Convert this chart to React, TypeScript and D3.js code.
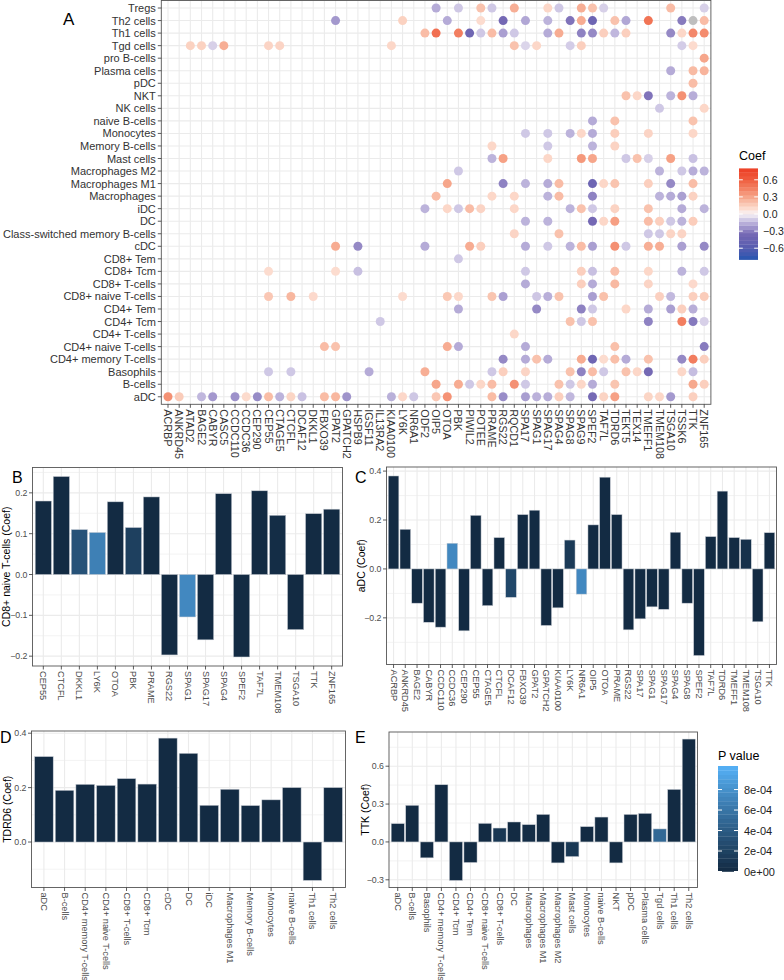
import React from "react";
import * as d3 from "d3";

// ---------- Panel A data ----------
const genes = [
  "ACRBP", "ANKRD45", "ATAD2", "BAGE2", "CABYR", "CASC5", "CCDC110", "CCDC36", "CEP290", "CEP55",
  "CTAGE5", "CTCFL", "DCAF12", "DKKL1", "FBXO39", "GPAT2", "GPATCH2", "HSPB9", "IGSF11", "IL13RA2",
  "KIAA0100", "LY6K", "NR6A1", "ODF2", "OIP5", "OTOA", "PBK", "PIWIL2", "POTEE", "PRAME", "RGS22",
  "RQCD1", "SPA17", "SPAG1", "SPAG17", "SPAG4", "SPAG8", "SPAG9", "SPEF2", "TAF7L", "TDRD6", "TEKT5",
  "TEX14", "TMEFF1", "TMEM108", "TSGA10", "TSSK6", "TTK", "ZNF165",
];

const cellTypes = [
  "Tregs", "Th2 cells", "Th1 cells", "Tgd cells", "pro B-cells", "Plasma cells", "pDC", "NKT",
  "NK cells", "naive B-cells", "Monocytes", "Memory B-cells", "Mast cells", "Macrophages M2",
  "Macrophages M1", "Macrophages", "iDC", "DC", "Class-switched memory B-cells", "cDC", "CD8+ Tem",
  "CD8+ Tcm", "CD8+ T-cells", "CD8+ naive T-cells", "CD4+ Tem", "CD4+ Tcm", "CD4+ T-cells",
  "CD4+ naive T-cells", "CD4+ memory T-cells", "Basophils", "B-cells", "aDC",
];

// [cell type, gene, coef]
const coefPoints: [string, string, number][] = [
  ["Tregs", "OIP5", -0.17], ["Tregs", "PBK", -0.1], ["Tregs", "POTEE", 0.2], ["Tregs", "PRAME", -0.1],
  ["Tregs", "RQCD1", 0.27], ["Tregs", "SPAG17", 0.12], ["Tregs", "SPAG4", -0.1], ["Tregs", "SPAG9", 0.27],
  ["Tregs", "SPEF2", 0.2], ["Tregs", "TAF7L", -0.08], ["Tregs", "TSGA10", 0.22], ["Tregs", "ZNF165", -0.08],
  ["Th2 cells", "GPAT2", -0.22], ["Th2 cells", "LY6K", 0.14], ["Th2 cells", "OTOA", -0.17], ["Th2 cells", "POTEE", 0.1],
  ["Th2 cells", "RGS22", -0.36], ["Th2 cells", "SPA17", -0.18], ["Th2 cells", "SPAG17", -0.15], ["Th2 cells", "SPAG8", -0.32],
  ["Th2 cells", "SPAG9", 0.28], ["Th2 cells", "SPEF2", -0.42], ["Th2 cells", "TEKT5", -0.18], ["Th2 cells", "TMEFF1", 0.5],
  ["Th2 cells", "TSSK6", -0.3], ["Th2 cells", "ZNF165", 0.22],
  ["Th1 cells", "ODF2", 0.22], ["Th1 cells", "OIP5", 0.52], ["Th1 cells", "PBK", 0.45], ["Th1 cells", "PIWIL2", -0.4],
  ["Th1 cells", "POTEE", -0.1], ["Th1 cells", "PRAME", 0.22], ["Th1 cells", "RGS22", -0.2], ["Th1 cells", "RQCD1", -0.1],
  ["Th1 cells", "SPAG17", -0.17], ["Th1 cells", "SPAG4", 0.28], ["Th1 cells", "SPAG9", -0.28], ["Th1 cells", "SPEF2", -0.26],
  ["Th1 cells", "TAF7L", 0.15], ["Th1 cells", "TEKT5", 0.15], ["Th1 cells", "TSGA10", -0.26], ["Th1 cells", "TSSK6", 0.12],
  ["Th1 cells", "ZNF165", 0.4],
  ["Tgd cells", "ATAD2", 0.14], ["Tgd cells", "BAGE2", 0.14], ["Tgd cells", "CABYR", -0.08], ["Tgd cells", "CASC5", 0.27],
  ["Tgd cells", "CEP55", 0.13], ["Tgd cells", "CTAGE5", 0.13], ["Tgd cells", "KIAA0100", 0.12], ["Tgd cells", "RQCD1", 0.2],
  ["Tgd cells", "SPA17", -0.07], ["Tgd cells", "SPAG1", 0.12], ["Tgd cells", "SPAG8", -0.09], ["Tgd cells", "SPAG9", 0.15],
  ["Tgd cells", "TSSK6", -0.09],
  ["pro B-cells", "ZNF165", 0.3],
  ["Plasma cells", "TSGA10", -0.17], ["Plasma cells", "ZNF165", 0.25],
  ["NKT", "TEKT5", 0.2], ["NKT", "TEX14", 0.12], ["NKT", "TMEFF1", -0.32], ["NKT", "TSGA10", -0.15], ["NKT", "TSSK6", 0.38],
  ["NK cells", "TMEM108", -0.1], ["NK cells", "ZNF165", 0.12],
  ["naive B-cells", "SPEF2", -0.17],
  ["Monocytes", "SPA17", -0.1], ["Monocytes", "SPAG17", -0.1], ["Monocytes", "SPAG8", -0.15], ["Monocytes", "SPAG9", 0.12],
  ["Monocytes", "SPEF2", -0.17], ["Monocytes", "TMEFF1", 0.13],
  ["Memory B-cells", "PRAME", 0.12], ["Memory B-cells", "SPAG17", -0.1], ["Memory B-cells", "SPEF2", -0.15],
  ["Mast cells", "PRAME", -0.15], ["Mast cells", "RGS22", 0.32], ["Mast cells", "SPAG17", 0.12], ["Mast cells", "SPAG9", 0.35],
  ["Mast cells", "SPEF2", 0.3], ["Mast cells", "TEKT5", -0.1], ["Mast cells", "TEX14", 0.2], ["Mast cells", "TMEFF1", -0.08],
  ["Mast cells", "TSGA10", 0.32],
  ["Macrophages M2", "PBK", -0.1], ["Macrophages M2", "TMEM108", -0.15], ["Macrophages M2", "TSSK6", -0.1], ["Macrophages M2", "ZNF165", -0.15],
  ["Macrophages M1", "OTOA", 0.3], ["Macrophages M1", "RGS22", -0.28], ["Macrophages M1", "SPA17", -0.15], ["Macrophages M1", "SPAG17", -0.17],
  ["Macrophages M1", "SPAG4", 0.22], ["Macrophages M1", "SPEF2", -0.42], ["Macrophages M1", "TAF7L", 0.12], ["Macrophages M1", "TMEFF1", 0.15],
  ["Macrophages M1", "TSGA10", -0.26],
  ["Macrophages", "OIP5", 0.22], ["Macrophages", "PRAME", 0.12], ["Macrophages", "RQCD1", 0.12], ["Macrophages", "SPAG17", -0.15],
  ["Macrophages", "SPAG4", 0.22], ["Macrophages", "SPEF2", -0.28], ["Macrophages", "TMEM108", -0.15], ["Macrophages", "TSGA10", -0.17],
  ["Macrophages", "TSSK6", -0.2],
  ["iDC", "ODF2", -0.15], ["iDC", "OTOA", 0.12], ["iDC", "PBK", -0.1], ["iDC", "PIWIL2", 0.22], ["iDC", "POTEE", 0.13],
  ["iDC", "RQCD1", 0.12], ["iDC", "SPAG8", -0.15], ["iDC", "SPAG9", 0.2], ["iDC", "SPEF2", -0.1], ["iDC", "TMEFF1", 0.2],
  ["iDC", "TSSK6", -0.17], ["iDC", "ZNF165", -0.15],
  ["DC", "SPA17", -0.15], ["DC", "SPAG17", -0.15], ["DC", "SPEF2", -0.36], ["DC", "TAF7L", 0.12], ["DC", "TMEFF1", 0.22],
  ["DC", "TMEM108", 0.15], ["DC", "TSGA10", -0.1], ["DC", "TSSK6", -0.15],
  ["Class-switched memory B-cells", "RQCD1", 0.13], ["Class-switched memory B-cells", "SPAG4", 0.2],
  ["Class-switched memory B-cells", "TMEFF1", -0.1], ["Class-switched memory B-cells", "TMEM108", -0.1],
  ["Class-switched memory B-cells", "TSGA10", 0.13], ["Class-switched memory B-cells", "TSSK6", 0.13],
  ["cDC", "GPAT2", 0.28], ["cDC", "HSPB9", -0.26], ["cDC", "ODF2", -0.17], ["cDC", "PIWIL2", 0.28], ["cDC", "POTEE", 0.15],
  ["cDC", "SPA17", -0.17], ["cDC", "SPAG17", -0.1], ["cDC", "SPAG8", -0.15], ["cDC", "SPAG9", 0.22], ["cDC", "SPEF2", -0.2],
  ["cDC", "TEKT5", -0.1], ["cDC", "TMEFF1", 0.27], ["cDC", "TMEM108", 0.27], ["cDC", "TSSK6", -0.2], ["cDC", "ZNF165", -0.26],
  ["CD8+ Tem", "PBK", -0.1],
  ["CD8+ Tcm", "CEP55", 0.1], ["CD8+ Tcm", "GPAT2", 0.1], ["CD8+ Tcm", "HSPB9", -0.12], ["CD8+ Tcm", "SPA17", -0.1],
  ["CD8+ Tcm", "SPAG9", 0.15], ["CD8+ Tcm", "SPEF2", -0.12], ["CD8+ Tcm", "TMEFF1", 0.12], ["CD8+ Tcm", "TSSK6", -0.15],
  ["CD8+ Tcm", "ZNF165", -0.1],
  ["CD8+ T-cells", "SPA17", -0.17], ["CD8+ T-cells", "SPAG9", 0.15], ["CD8+ T-cells", "SPEF2", -0.17], ["CD8+ T-cells", "TMEFF1", 0.13],
  ["CD4+ Tem", "PBK", -0.17], ["CD4+ Tem", "SPAG1", -0.26], ["CD4+ Tem", "SPAG9", -0.28], ["CD4+ Tem", "SPEF2", -0.1],
  ["CD4+ Tem", "TEKT5", 0.12], ["CD4+ Tem", "TMEFF1", -0.17], ["CD4+ Tem", "TSGA10", -0.2], ["CD4+ Tem", "TSSK6", 0.15],
  ["CD4+ Tcm", "IL13RA2", -0.1], ["CD4+ Tcm", "SPAG8", 0.2], ["CD4+ Tcm", "SPAG9", -0.1], ["CD4+ Tcm", "SPEF2", 0.2],
  ["CD4+ Tcm", "TMEFF1", -0.28], ["CD4+ Tcm", "TSSK6", 0.45], ["CD4+ Tcm", "ZNF165", -0.08],
  ["CD4+ T-cells", "RQCD1", 0.12],
  ["CD4+ naive T-cells", "FBXO39", 0.22], ["CD4+ naive T-cells", "GPAT2", 0.2], ["CD4+ naive T-cells", "OTOA", 0.28],
  ["CD4+ naive T-cells", "PBK", -0.17], ["CD4+ naive T-cells", "SPA17", -0.17], ["CD4+ naive T-cells", "ZNF165", -0.3],
  ["CD4+ memory T-cells", "RGS22", -0.26], ["CD4+ memory T-cells", "SPA17", -0.17], ["CD4+ memory T-cells", "SPAG1", 0.2],
  ["CD4+ memory T-cells", "SPAG17", -0.17], ["CD4+ memory T-cells", "SPAG9", 0.28], ["CD4+ memory T-cells", "SPEF2", -0.4],
  ["CD4+ memory T-cells", "TAF7L", 0.1], ["CD4+ memory T-cells", "TEKT5", -0.17], ["CD4+ memory T-cells", "TMEFF1", 0.2],
  ["CD4+ memory T-cells", "TSSK6", -0.26], ["CD4+ memory T-cells", "ZNF165", 0.15],
  ["Basophils", "CEP55", -0.1], ["Basophils", "CTCFL", -0.1], ["Basophils", "IGSF11", -0.17], ["Basophils", "ODF2", 0.27],
  ["Basophils", "PRAME", -0.1], ["Basophils", "RGS22", 0.15], ["Basophils", "SPA17", 0.13], ["Basophils", "SPAG8", 0.2],
  ["Basophils", "SPAG9", -0.28], ["Basophils", "SPEF2", 0.22], ["Basophils", "TAF7L", -0.1], ["Basophils", "TEKT5", 0.2],
  ["Basophils", "TEX14", 0.12], ["Basophils", "TMEFF1", -0.35], ["Basophils", "TSSK6", 0.12],
  ["B-cells", "OIP5", 0.3], ["B-cells", "PBK", 0.28], ["B-cells", "PIWIL2", -0.1], ["B-cells", "POTEE", 0.12],
  ["B-cells", "PRAME", 0.22], ["B-cells", "RQCD1", 0.38], ["B-cells", "SPA17", -0.1], ["B-cells", "SPAG4", 0.2],
  ["B-cells", "SPAG8", -0.1], ["B-cells", "SPAG9", 0.12], ["B-cells", "SPEF2", -0.17], ["B-cells", "ZNF165", 0.15],
];

// ---------- Panel B: CD8+ naive T-cells ----------
const bGenes = ["CEP55", "CTCFL", "DKKL1", "LY6K", "OTOA", "PBK", "PRAME", "RGS22", "SPAG1", "SPAG17", "SPAG4", "SPEF2", "TAF7L", "TMEM108", "TSGA10", "TTK", "ZNF165"];
const bCoef = [0.18, 0.24, 0.11, 0.103, 0.178, 0.115, 0.19, -0.197, -0.104, -0.16, 0.198, -0.202, 0.205, 0.145, -0.135, 0.149, 0.16];
const bP = [0, 0, 0.00033, 0.00068, 0, 0.00018, 0, 0, 0.00074, 0, 0, 0, 0, 0.00002, 0, 0, 0];

// ---------- Panel C: aDC ----------
const cGenes = ["ACRBP", "ANKRD45", "BAGE2", "CABYR", "CCDC110", "CCDC36", "CEP290", "CEP55", "CTAGE5", "CTCFL", "DCAF12", "FBXO39", "GPAT2", "GPATCH2", "KIAA0100", "LY6K", "NR6A1", "OIP5", "OTOA", "PRAME", "RGS22", "SPA17", "SPAG1", "SPAG17", "SPAG4", "SPAG8", "SPEF2", "TAF7L", "TDRD6", "TMEFF1", "TMEM108", "TSGA10", "TTK"];
const cCoef = [0.38, 0.162, -0.14, -0.218, -0.238, 0.105, -0.253, 0.219, -0.15, 0.128, -0.116, 0.222, 0.24, -0.231, -0.159, 0.118, -0.103, 0.18, 0.375, 0.222, -0.249, -0.204, -0.155, -0.165, 0.15, -0.14, -0.354, 0.132, 0.318, 0.128, 0.121, -0.216, 0.148];
const cP = [0, 0, 0, 0, 0, 0.00074, 0, 0, 0, 0, 0.00024, 0, 0, 0, 0, 0.00013, 0.00074, 0, 0, 0, 0, 0, 0, 0, 0, 0, 0, 0, 0, 0, 0.00005, 0, 0];

// ---------- Panel D: TDRD6 ----------
const dCells = ["aDC", "B-cells", "CD4+ memory T-cells", "CD4+ naive T-cells", "CD8+ T-cells", "CD8+ Tcm", "cDC", "DC", "iDC", "Macrophages M1", "Memory B-cells", "Monocytes", "naive B-cells", "Th1 cells", "Th2 cells"];
const dCoef = [0.314, 0.19, 0.212, 0.208, 0.233, 0.213, 0.382, 0.326, 0.135, 0.194, 0.134, 0.155, 0.2, -0.141, 0.2];
const dP = [0, 0, 0, 0, 0, 0, 0, 0, 0, 0, 0, 0, 0, 0, 0];

// ---------- Panel E: TTK ----------
const eCells = ["aDC", "B-cells", "Basophils", "CD4+ memory T-cells", "CD4+ Tcm", "CD4+ Tem", "CD8+ naive T-cells", "CD8+ T-cells", "DC", "Macrophages", "Macrophages M1", "Macrophages M2", "Mast cells", "Monocytes", "naive B-cells", "NKT", "pDC", "Plasma cells", "Tgd cells", "Th1 cells", "Th2 cells"];
const eCoef = [0.145, 0.29, -0.126, 0.453, -0.305, -0.163, 0.147, 0.11, 0.158, 0.137, 0.218, -0.166, -0.116, 0.121, 0.197, -0.166, 0.218, 0.226, 0.103, 0.416, 0.815];
const eP = [0, 0, 0, 0, 0, 0, 0, 0.0001, 0, 0.00002, 0, 0, 0.00011, 0, 0, 0, 0, 0, 0.0005, 0, 0];

const coefLegendTicks = [0.6, 0.3, 0.0, -0.3, -0.6];
const pLegendTicks = [0, 0.0002, 0.0004, 0.0006, 0.0008];
const pLegendLabels = ["0e+00", "2e-04", "4e-04", "6e-04", "8e-04"];

// ---------- styles / scales ----------
const FONT = "'Liberation Sans', Arial, Helvetica, sans-serif";
const GRID = "#EBEBEB";
const BORDER = "#555555";
const AXIS_TXT = "#4D4D4D";

const PMAX = 0.00103;
const pColor = d3.scaleLinear<string>().domain([0, PMAX]).range(["#132B43", "#56B1F7"]).interpolate(d3.interpolateLab);

const COEF_LIM = 0.8;
const coefStops = [-0.8, -0.55, -0.35, -0.2, -0.1, 0, 0.1, 0.2, 0.3, 0.45, 0.6, 0.8];
const coefStopColors = ["#2356b0", "#5c5eb0", "#7569b4", "#aa9fd1", "#cfc8e5", "#f7f3f6", "#fcdccf", "#f9c2ad", "#f6a68b", "#f27e60", "#ef5d3f", "#ec3d24"];
const coefScale = d3.scaleLinear<string>().domain(coefStops).range(coefStopColors).interpolate(d3.interpolateLab);
const coefColor = (v: number) => (Math.abs(v) > COEF_LIM ? "#BEBEBE" : coefScale(v));

const fmt1 = d3.format(".1f");

function buildPoints() {
  const seen = new Set<string>();
  const out: { cell: string; gene: string; v: number }[] = [];
  const add = (cell: string, gene: string, v: number) => {
    const k = cell + "|" + gene;
    if (!seen.has(k)) {
      seen.add(k);
      out.push({ cell, gene, v });
    }
  };
  coefPoints.forEach(([c, g, v]) => add(c, g, v));
  bGenes.forEach((g, i) => add("CD8+ naive T-cells", g, bCoef[i]));
  cGenes.forEach((g, i) => add("aDC", g, cCoef[i]));
  dCells.forEach((c, i) => add(c, "TDRD6", dCoef[i]));
  eCells.forEach((c, i) => add(c, "TTK", eCoef[i]));
  return out;
}

function PanelA() {
  const L = 161.3, R = 710.9, T = 0.5, B = 404.3;
  const x = d3.scalePoint<string>().domain(genes).range([L, R]).padding(0.6);
  const y = d3.scalePoint<string>().domain(cellTypes).range([T, B]).padding(0.6);
  const pts = buildPoints();
  return (
    <g>
      <rect x={L} y={T} width={R - L} height={B - T} fill="white" />
      {genes.map((g) => (
        <line key={"vg" + g} x1={x(g)} x2={x(g)} y1={T} y2={B} stroke={GRID} strokeWidth={1.1} />
      ))}
      {cellTypes.map((c) => (
        <line key={"hg" + c} x1={L} x2={R} y1={y(c)} y2={y(c)} stroke={GRID} strokeWidth={1.1} />
      ))}
      {pts.map((p) => (
        <circle key={p.cell + p.gene} cx={x(p.gene)} cy={y(p.cell)} r={4.5} fill={coefColor(p.v)} />
      ))}
      <rect x={L} y={T} width={R - L} height={B - T} fill="none" stroke={BORDER} strokeWidth={0.9} />
      {cellTypes.map((c) => (
        <g key={"yl" + c}>
          <line x1={L - 3.5} x2={L} y1={y(c)} y2={y(c)} stroke="#333" strokeWidth={0.8} />
          <text x={L - 5.5} y={y(c)} textAnchor="end" dominantBaseline="central" fontSize={11} fill="#333" fontFamily={FONT}>{c}</text>
        </g>
      ))}
      {genes.map((g) => (
        <g key={"xl" + g}>
          <line x1={x(g)} x2={x(g)} y1={B} y2={B + 3.5} stroke="#333" strokeWidth={0.8} />
          <text transform={`translate(${x(g)},${B + 5})rotate(90)`} textAnchor="start" dominantBaseline="central" fontSize={10.8} fill="#333" fontFamily={FONT}>{g}</text>
        </g>
      ))}
      <text x={63} y={25} fontSize={17} fontFamily={FONT} fill="#000">A</text>
    </g>
  );
}

function CoefLegend() {
  const X = 739, W = 19;
  const yL = d3.scaleLinear().domain([-COEF_LIM, COEF_LIM]).range([259.6, 168.4]);
  const nb = 24;
  const bins = d3.range(nb).map((i) => -COEF_LIM + (i * 2 * COEF_LIM) / nb);
  const h = (2 * COEF_LIM) / nb;
  return (
    <g>
      <text x={X} y={160} fontSize={12.5} fontFamily={FONT} fill="#000">Coef</text>
      {bins.map((b, i) => (
        <rect key={i} x={X} y={yL(b + h)} width={W} height={yL(b) - yL(b + h) + 0.3} fill={coefScale(b + h / 2)} />
      ))}
      {coefLegendTicks.map((t) => (
        <g key={t}>
          <line x1={X} x2={X + 3.8} y1={yL(t)} y2={yL(t)} stroke="white" strokeWidth={1} />
          <line x1={X + W - 3.8} x2={X + W} y1={yL(t)} y2={yL(t)} stroke="white" strokeWidth={1} />
          <text x={X + W + 5} y={yL(t)} dominantBaseline="central" fontSize={10.5} fontFamily={FONT} fill="#222">{fmt1(t)}</text>
        </g>
      ))}
    </g>
  );
}

function PLegend() {
  const X = 718, W = 20;
  const yP = d3.scaleLinear().domain([0, PMAX]).range([871.5, 766]);
  const nb = 24;
  const h = PMAX / nb;
  const bins = d3.range(nb).map((i) => i * h);
  return (
    <g>
      <text x={X} y={760} fontSize={12.5} fontFamily={FONT} fill="#000">P value</text>
      {bins.map((b, i) => (
        <rect key={i} x={X} y={yP(b + h)} width={W} height={yP(b) - yP(b + h) + 0.3} fill={pColor(b + h / 2)} />
      ))}
      {pLegendTicks.map((t, i) => (
        <g key={t}>
          <line x1={X} x2={X + 4} y1={yP(t)} y2={yP(t)} stroke="white" strokeWidth={1} />
          <line x1={X + W - 4} x2={X + W} y1={yP(t)} y2={yP(t)} stroke="white" strokeWidth={1} />
          <text x={X + W + 6} y={yP(t)} dominantBaseline="central" fontSize={11} fontFamily={FONT} fill="#222">{pLegendLabels[i]}</text>
        </g>
      ))}
    </g>
  );
}

type BarProps = {
  cats: string[];
  vals: number[];
  ps: number[];
  L: number; R: number; T: number; B: number;
  ticks: number[];
  title: string;
  titleX: number;
  letter: string;
  letterX: number;
  letterY: number;
};

function BarPanel({ cats, vals, ps, L, R, T, B, ticks, title, titleX, letter, letterX, letterY }: BarProps) {
  const x = d3.scalePoint<string>().domain(cats).range([L, R]).padding(0.6);
  const bw = x.step() * 0.9;
  const lo = Math.min(0, d3.min(vals) as number);
  const hi = Math.max(0, d3.max(vals) as number);
  const r = hi - lo;
  const dom: [number, number] = [lo - 0.05 * r, hi + 0.05 * r];
  const y = d3.scaleLinear().domain(dom).range([B, T]);
  const s = ticks[1] - ticks[0];
  const minors: number[] = [];
  for (let v = ticks[0] - s / 2; v <= ticks[ticks.length - 1] + s / 2 + 1e-9; v += s) {
    if (v >= dom[0] && v <= dom[1]) minors.push(v);
  }
  return (
    <g>
      <rect x={L} y={T} width={R - L} height={B - T} fill="white" />
      {minors.map((m, i) => (
        <line key={"mn" + i} x1={L} x2={R} y1={y(m)} y2={y(m)} stroke={GRID} strokeWidth={0.6} />
      ))}
      {ticks.map((t) => (
        <line key={"mj" + t} x1={L} x2={R} y1={y(t)} y2={y(t)} stroke={GRID} strokeWidth={1.1} />
      ))}
      {cats.map((c) => (
        <line key={"vg" + c} x1={x(c)} x2={x(c)} y1={T} y2={B} stroke={GRID} strokeWidth={1.1} />
      ))}
      {cats.map((c, i) => {
        const v = vals[i];
        const y0 = y(0), y1 = y(v);
        return (
          <rect key={"b" + c} x={(x(c) as number) - bw / 2} y={Math.min(y0, y1)} width={bw} height={Math.abs(y1 - y0)}
            fill={pColor(ps[i])} stroke="#c7ccd3" strokeWidth={0.5} />
        );
      })}
      <rect x={L} y={T} width={R - L} height={B - T} fill="none" stroke={BORDER} strokeWidth={0.9} />
      {ticks.map((t) => (
        <g key={"yt" + t}>
          <line x1={L - 3.5} x2={L} y1={y(t)} y2={y(t)} stroke="#333" strokeWidth={0.8} />
          <text x={L - 5} y={y(t)} textAnchor="end" dominantBaseline="central" fontSize={8.8} fill={AXIS_TXT} fontFamily={FONT}>{fmt1(t)}</text>
        </g>
      ))}
      {cats.map((c) => (
        <g key={"xt" + c}>
          <line x1={x(c)} x2={x(c)} y1={B} y2={B + 3.5} stroke="#333" strokeWidth={0.8} />
          <text transform={`translate(${x(c)},${B + 5})rotate(90)`} textAnchor="start" dominantBaseline="central" fontSize={9.2} fill={AXIS_TXT} fontFamily={FONT}>{c}</text>
        </g>
      ))}
      <text transform={`translate(${titleX},${(T + B) / 2})rotate(-90)`} dy="0.35em" textAnchor="middle" fontSize={10.5} fill="#000" fontFamily={FONT}>{title}</text>
      <text x={letterX} y={letterY} fontSize={16} fill="#000" fontFamily={FONT}>{letter}</text>
    </g>
  );
}

export default function App() {
  return (
    <svg width={784} height={980} style={{ position: "absolute", left: 0, top: 0, background: "white" }} xmlns="http://www.w3.org/2000/svg">
      <rect x={0} y={0} width={784} height={980} fill="white" />
      <PanelA />
      <CoefLegend />
      <BarPanel cats={bGenes} vals={bCoef} ps={bP} L={32.5} R={342.5} T={467.5} B={666} ticks={[-0.2, -0.1, 0, 0.1, 0.2]}
        title="CD8+ naive T-cells (Coef)" titleX={6} letter="B" letterX={12} letterY={483} />
      <BarPanel cats={cGenes} vals={cCoef} ps={cP} L={386.5} R={776.5} T={467} B={664.5} ticks={[-0.2, 0, 0.2, 0.4]}
        title="aDC (Coef)" titleX={361.5} letter="C" letterX={355} letterY={483} />
      <BarPanel cats={dCells} vals={dCoef} ps={dP} L={31.5} R={345.5} T={731} B={887.5} ticks={[0, 0.2, 0.4]}
        title="TDRD6 (Coef)" titleX={7.5} letter="D" letterX={0} letterY={743} />
      <BarPanel cats={eCells} vals={eCoef} ps={eP} L={389} R={697.5} T={732} B={887.5} ticks={[-0.3, 0, 0.3, 0.6]}
        title="TTK (Coef)" titleX={365} letter="E" letterX={355} letterY={743} />
      <PLegend />
    </svg>
  );
}
